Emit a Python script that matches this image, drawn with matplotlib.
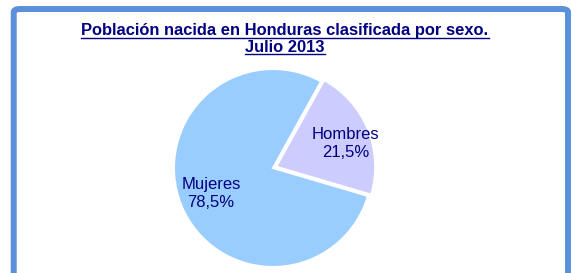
import matplotlib
matplotlib.use("Agg")
import matplotlib.pyplot as plt
from matplotlib.patches import FancyBboxPatch
from matplotlib.lines import Line2D
import numpy as np

# Data
categories = ["Hombres", "Mujeres"]
values = [21.5, 78.5]
pct_labels = ["21,5%", "78,5%"]
colors = ["#CCCCFF", "#99CCFF"]
title_lines = ["Población nacida en Honduras clasificada por sexo.", "Julio 2013"]

W, H, DPI = 572, 273, 100
fig = plt.figure(figsize=(W / DPI, H / DPI), dpi=DPI)
fig.patch.set_facecolor("white")
plt.rcParams['font.family'] = ['Liberation Sans', 'DejaVu Sans']

navy = "#000080"

# Frame (blue rounded border, cut off at the bottom)
frame = FancyBboxPatch((13.7 / W, -0.2), (568 - 13.7) / W, (H - 9) / H + 0.2,
                       boxstyle="round,pad=0,rounding_size=0.012",
                       transform=fig.transFigure, facecolor="none",
                       edgecolor="#5B90DA", linewidth=6 * 72 / DPI, zorder=0)
fig.patches.append(frame)

# Pie axes: centre ~ (273,168) px, radius ~99 px
R = 99
cx, cy = 273, 168
half = 1.1 * R
ax = fig.add_axes([(cx - half) / W, (H - cy - half) / H, 2 * half / W, 2 * half / H])

wedges, _ = ax.pie(values, colors=colors, startangle=-16.4, counterclock=True,
                   explode=[0.035, 0.0],
                   wedgeprops=dict(edgecolor="white", linewidth=1.5))
ax.set_xlim(-1.1, 1.1)
ax.set_ylim(-1.1, 1.1)
ax.set_aspect("equal")
ax.axis("off")

label_dist = [0.74, 0.675]
label_angle_shift = [-3.5, 0.0]
for w, name, pct, d, da in zip(wedges, categories, pct_labels, label_dist, label_angle_shift):
    mid = np.deg2rad((w.theta1 + w.theta2) / 2 + da)
    x = w.center[0] + d * w.r * np.cos(mid)
    y = w.center[1] + d * w.r * np.sin(mid)
    ax.text(x, y, f"{name}\n{pct}", ha="center", va="center", color=navy,
            fontsize=12, linespacing=1.25)

# Title with underline
title_y = [35, 51.7]  # baselines in px from top
fig.canvas.draw()
renderer = fig.canvas.get_renderer()
for line, by in zip(title_lines, title_y):
    t = fig.text(285 / W, 1 - by / H, line, ha="center", va="baseline",
                 fontsize=11.9, fontweight="bold", color=navy)
    bb = t.get_window_extent(renderer=renderer)
    uy = 1 - (by + 2.7) / H
    fig.add_artist(Line2D([bb.x0 / W, bb.x1 / W], [uy, uy], transform=fig.transFigure,
                          color=navy, linewidth=1.4 * 72 / DPI))

fig.savefig("out.png", dpi=DPI)
